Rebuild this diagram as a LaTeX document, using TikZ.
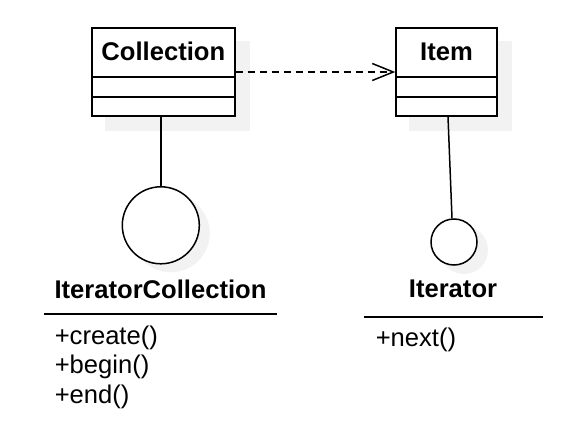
\documentclass[tikz,border=0pt]{standalone}
\usepackage{fontspec}
\setmainfont{Liberation Sans}
\usetikzlibrary{
	scopes, backgrounds,
	arrows.meta
}

\begin{document}
\begin{tikzpicture}[
	x = 1pt, y = -1pt,
	line width = 1.5pt,
	classbox/.style = {draw, fill = white, rectangle, inner sep = 0, minimum height = 88pt},
	iface/.style = {draw, fill = white, circle, inner sep = 0},
	shade/.style = {fill = gray!10},
	depend/.style = {dash pattern = on 7pt off 5pt, -{Straight Barb[length = 21pt, width = 17pt]}},
	title/.style = {anchor = base, inner sep = 0, font = \fontsize{25.6}{30}\selectfont\bfseries},
	member/.style = {anchor = base west, inner sep = 0, font = \fontsize{25.6}{30}\selectfont},
]

	% márgenes del dibujo
	\useasboundingbox (0,0) rectangle (580,430);

	% clases
	\node[classbox, minimum width = 143pt] (coll) at (163.3,72) {};
	\node[classbox, minimum width = 101pt] (item) at (446.5,72) {};

	\foreach \c in {coll, item} {
		\draw ([yshift = -50pt]\c.north west) -- ([yshift = -50pt]\c.north east);
		\draw ([yshift = -70pt]\c.north west) -- ([yshift = -70pt]\c.north east);
	}

	\node[title] (collname) at (163.3,61) {Collection};
	\node[title] (itemname) at (446.5,61) {Item};

	% interfaces
	\node[iface, minimum size = 77pt] (icoll) at (160.8,225.3) {};
	\node[iface, minimum size = 46pt] (iter) at (454,242) {};

	\draw (coll.south -| icoll.north) -- (icoll.north);
	\draw ([xshift = 1.5pt]item.south) -- ([xshift = -2pt]iter.north);

	% dependencia
	\draw[depend] (coll) -- (item);

	% nombres de las interfaces
	\node[title] (icollname) at (160.5,298) {IteratorCollection};
	\node[title] (itername) at (453,297) {Iterator};

	\draw (44,314) -- (277,314);
	\draw (364,317) -- (543,317);

	% operaciones
	\node[member] (mcreate) at (54,344) {+create()};
	\node[member] (mbegin) at (54,373.5) {+begin()};
	\node[member] (mend) at (54,403) {+end()};
	\node[member] (mnext) at (375,346) {+next()};

	% sombras
	{[on background layer]
	\foreach \c in {coll, item}
		\fill[shade]
			([shift = {(14,14)}]\c.north west)
			rectangle
			([shift = {(14,14)}]\c.south east);
	\fill[shade] ([shift = {(10,8)}]icoll.center) circle[radius = 39];
	\fill[shade] ([shift = {(10,8)}]iter.center) circle[radius = 24];
	}

\end{tikzpicture}
\end{document}
